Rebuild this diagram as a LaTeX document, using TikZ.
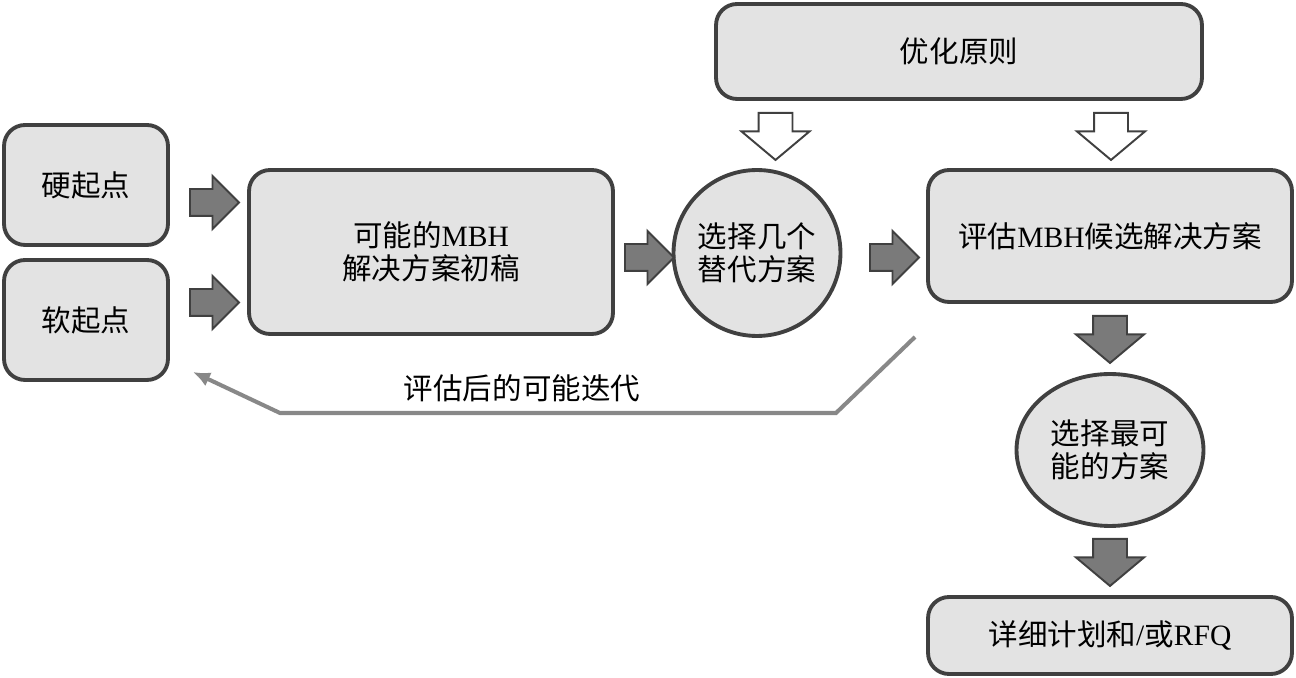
\documentclass[tikz,border=0pt]{standalone}
\usepackage{fontspec}
\setmainfont{Liberation Serif}
\newfontfamily\cjk{Noto Sans CJK SC}
\newcommand\lat[1]{{\rmfamily #1}}
\usetikzlibrary{arrows.meta,shapes.geometric,shapes.arrows}
\definecolor{BoxFill}{RGB}{227,227,227}
\definecolor{BoxLine}{RGB}{64,64,64}
\definecolor{ArrowFill}{RGB}{122,122,122}
\definecolor{LoopGray}{RGB}{136,136,136}
\tikzset{
  >=Latex,
  box/.style={draw=BoxLine,line width=2.2pt,rounded corners=0.42cm,fill=BoxFill,align=center,font=\cjk\fontsize{16.8}{19}\selectfont,inner sep=0pt},
  bubble/.style={box,ellipse},
  rarrow/.style={single arrow,anchor=tail,draw=BoxLine,line width=1.1pt,fill=ArrowFill,inner sep=0.25cm,minimum height=0.98cm,single arrow head extend=0.26cm},
  darrow/.style={single arrow,anchor=tail,shape border rotate=270,draw=BoxLine,line width=1.1pt,fill=ArrowFill,inner xsep=0.32cm,inner ysep=0.05cm,minimum height=0.94cm,single arrow head extend=0.34cm,single arrow tip angle=100},
  hollow/.style={darrow,fill=white},
  loop/.style={-{Latex[length=0.34cm,width=0.3cm]},line width=2.3pt,draw=LoopGray},
  note/.style={font=\cjk\fontsize{16.8}{19}\selectfont,inner sep=0pt}
}

\begin{document}
\begin{tikzpicture}[x=0.02cm,y=-0.02cm]
  \useasboundingbox (0,0) rectangle (1296,678);
  \node[box,minimum width=3.28cm,minimum height=2.4cm] (hard) at (86,185) {硬起点};
  \node[box,minimum width=3.28cm,minimum height=2.4cm] (soft) at (86,320) {软起点};
  \node[box,minimum width=7.28cm,minimum height=3.28cm] (draft) at (431,252) {可能的\lat{MBH}\\解决方案初稿};
  \node[bubble,minimum width=3.0cm,minimum height=3.32cm] (alt) at (757,253) {选择几个\\替代方案};
  \node[box,minimum width=7.28cm,minimum height=2.64cm] (eval) at (1110,236) {评估\lat{MBH}候选解决方案};
  \node[box,minimum width=9.72cm,minimum height=1.9cm] (rule) at (959,51.5) {优化原则};
  \node[bubble,minimum width=3.74cm,minimum height=3.04cm] (best) at (1110,450) {选择最可\\能的方案};
  \node[box,minimum width=7.28cm,minimum height=1.54cm] (rfq) at (1110,635.5) {详细计划和\lat{/}或\lat{RFQ}};
  % block arrows
  \node[rarrow] (ha) at (189,202.5) {};
  \node[rarrow] (sa) at (189,302.5) {};
  \node[rarrow] (da) at (624,257.5) {};
  \node[rarrow] (aa) at (869,257.5) {};
  \node[hollow] (ra) at (775.5,112) {};
  \node[hollow] (rb) at (1111,112) {};
  \node[darrow] (ea) at (1110,315) {};
  \node[darrow] (ba) at (1110,538) {};
  % iteration loop
  \coordinate (loopstart) at (915,337);
  \coordinate (loopa) at (836,413);
  \coordinate (loopb) at (280,413);
  \coordinate (loopend) at (193,372);
  \draw[loop] (loopstart)--(loopa)--(loopb)--(loopend);
  \node[note] (looptext) at (522,388) {评估后的可能迭代};
\end{tikzpicture}
\end{document}
